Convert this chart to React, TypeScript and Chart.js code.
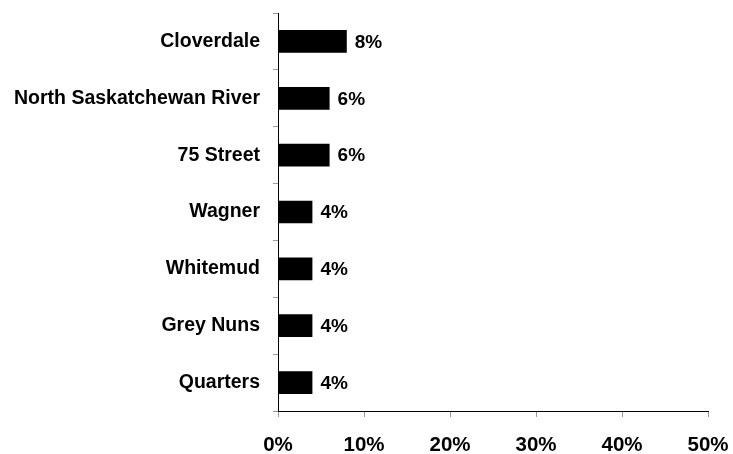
import React, { useEffect, useRef } from "react";
import { Chart, registerables } from "chart.js";

Chart.register(...registerables);

const categories = [
  "Cloverdale",
  "North Saskatchewan River",
  "75 Street",
  "Wagner",
  "Whitemud",
  "Grey Nuns",
  "Quarters",
];
const values = [8, 6, 6, 4, 4, 4, 4];
const xTicks = [0, 10, 20, 30, 40, 50];

const FONT = "'Liberation Sans', Arial, Helvetica, sans-serif";

const labelPlugin = {
  id: "barLabels",
  afterDatasetsDraw(chart: any) {
    const ctx = chart.ctx;
    const meta = chart.getDatasetMeta(0);
    ctx.save();
    ctx.font = `bold 19px ${FONT}`;
    ctx.fillStyle = "#000";
    ctx.textAlign = "left";
    ctx.textBaseline = "middle";
    meta.data.forEach((bar: any, i: number) => {
      ctx.fillText(`${values[i]}%`, bar.x + 8, bar.y + 1);
    });
    ctx.restore();
  },
};

export default function App() {
  const ref = useRef<HTMLCanvasElement>(null);
  useEffect(() => {
    if (!ref.current) return;
    const chart = new Chart(ref.current, {
      type: "bar",
      data: {
        labels: categories,
        datasets: [
          {
            data: values,
            backgroundColor: "#000",
            borderWidth: 0,
            barPercentage: 0.8,
            categoryPercentage: 0.5,
          },
        ],
      },
      options: {
        indexAxis: "y",
        animation: false,
        responsive: false,
        maintainAspectRatio: false,
        layout: { padding: { top: 13, right: 25, left: 0, bottom: 0 } },
        plugins: { legend: { display: false }, tooltip: { enabled: false } },
        scales: {
          x: {
            min: 0,
            max: 50,
            afterBuildTicks: (scale: any) => {
              scale.ticks = xTicks.map((v) => ({ value: v }));
            },
            afterFit: (scale: any) => {
              scale.height = 43;
              scale.paddingLeft = 0;
              scale.paddingRight = 0;
            },
            grid: {
              drawOnChartArea: false,
              drawTicks: true,
              tickLength: 6,
              color: "#999",
            },
            border: { display: true, color: "#000", width: 1 },
            ticks: {
              color: "#000",
              padding: 16,
              font: { family: FONT, size: 20.5, weight: "bold" },
              callback: (v: any) => `${v}%`,
              maxRotation: 0,
            },
          },
          y: {
            afterFit: (scale: any) => {
              scale.width = 278;
              scale.paddingTop = 0;
              scale.paddingBottom = 0;
            },
            grid: {
              drawOnChartArea: false,
              drawTicks: true,
              tickLength: 5,
              offset: true,
              color: "#999",
            },
            border: { display: true, color: "#000", width: 1 },
            ticks: {
              color: "#000",
              padding: 13,
              font: { family: FONT, size: 19.5, weight: "bold" },
            },
          },
        },
      },
      plugins: [labelPlugin],
    });
    return () => chart.destroy();
  }, []);
  return (
    <div style={{ position: "fixed", left: 0, top: 0, width: 733, height: 454, background: "#fff" }}>
      <canvas ref={ref} width={733} height={454} style={{ width: 733, height: 454 }} />
    </div>
  );
}
